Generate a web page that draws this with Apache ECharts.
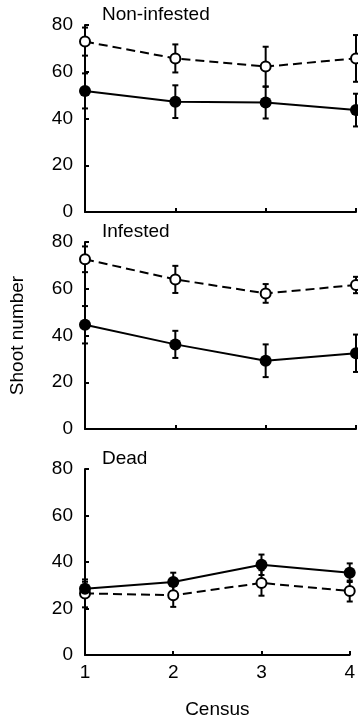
<!DOCTYPE html>
<html>
<head>
<meta charset="utf-8">
<script src="https://cdn.jsdelivr.net/npm/echarts@6/dist/echarts.min.js"></script>
<style>
  html, body { margin: 0; padding: 0; background: #fff; }
  #chart { width: 358px; height: 720px; }
</style>
</head>
<body>
<div id="chart"></div>
<script>
// census numbers on the x axis
const census = [1, 2, 3, 4]
const yTicks = [0, 20, 40, 60, 80]
const panelNames = ['Non-infested', 'Infested', 'Dead']

// open circles (dashed line) and filled circles (solid line), mean and error
const openMean = [
  [72.9, 65.7, 62.2, 65.7],
  [72.6, 64.0, 58.0, 61.6],
  [26.5, 25.7, 31.0, 27.5],
]
const openErr = [
  [6, 6, 8.5, 10],
  [5.5, 5.8, 4, 3.5],
  [6, 5, 5.5, 4.5],
]
const filledMean = [
  [51.8, 47.2, 46.8, 43.6],
  [44.6, 36.2, 29.2, 32.4],
  [28.5, 31.4, 38.8, 35.4],
]
const filledErr = [
  [7.5, 7, 6.8, 7],
  [8, 5.8, 7, 8],
  [3, 4, 4.4, 4],
]

const font = 'Liberation Sans, Arial, sans-serif'
const gridTops = [25, 242, 469]
const gridH = 187

function errorBars(means, errs, idx) {
  return {
    type: 'custom',
    xAxisIndex: idx,
    yAxisIndex: idx,
    z: 1,
    data: census.map((c, i) => [c, means[i] - errs[i], means[i] + errs[i]]),
    renderItem: (params, api) => {
      const lo = api.coord([api.value(0), api.value(1)])
      const hi = api.coord([api.value(0), api.value(2)])
      const w = 3
      const style = { stroke: '#000', lineWidth: 2 }
      return {
        type: 'group',
        children: [
          { type: 'line', shape: { x1: lo[0], y1: lo[1], x2: hi[0], y2: hi[1] }, style },
          { type: 'line', shape: { x1: lo[0] - w, y1: lo[1], x2: lo[0] + w, y2: lo[1] }, style },
          { type: 'line', shape: { x1: hi[0] - w, y1: hi[1], x2: hi[0] + w, y2: hi[1] }, style },
        ],
      }
    },
  }
}

const grids = []
const xAxes = []
const yAxes = []
const series = []
const titles = []

panelNames.forEach((name, p) => {
  const last = p === panelNames.length - 1
  grids.push({ left: 85, right: 2, top: gridTops[p], height: gridH })
  xAxes.push({
    gridIndex: p,
    type: 'value',
    min: 1,
    max: 4,
    interval: 1,
    splitLine: { show: false },
    axisLine: { lineStyle: { color: '#000', width: 2 } },
    axisTick: { inside: true, length: 4, lineStyle: { color: '#000', width: 2 } },
    axisLabel: { show: last, color: '#000', fontSize: 19, fontFamily: font, margin: 8 },
    name: last ? 'Census' : '',
    nameLocation: 'middle',
    nameGap: 45,
    nameTextStyle: { color: '#000', fontSize: 19, fontFamily: font },
  })
  yAxes.push({
    gridIndex: p,
    type: 'value',
    min: yTicks[0],
    max: yTicks[yTicks.length - 1],
    interval: 20,
    splitLine: { show: false },
    axisLine: { show: true, lineStyle: { color: '#000', width: 2 } },
    axisTick: { show: true, inside: true, length: 4, lineStyle: { color: '#000', width: 2 } },
    axisLabel: { color: '#000', fontSize: 19, fontFamily: font, margin: 12 },
    name: p === 1 ? 'Shoot number' : '',
    nameLocation: 'middle',
    nameRotate: 90,
    nameGap: 58,
    nameTextStyle: { color: '#000', fontSize: 19, fontFamily: font },
  })
  titles.push({
    text: name,
    left: 102,
    top: gridTops[p] - 20,
    padding: 0,
    textStyle: { color: '#000', fontSize: 19, fontWeight: 'normal', fontFamily: font },
  })

  series.push(errorBars(openMean[p], openErr[p], p))
  series.push(errorBars(filledMean[p], filledErr[p], p))
  series.push({
    type: 'line',
    xAxisIndex: p,
    yAxisIndex: p,
    z: 3,
    data: census.map((c, i) => [c, openMean[p][i]]),
    symbol: 'circle',
    symbolSize: 10,
    lineStyle: { color: '#000', width: 2, type: [9, 5] },
    itemStyle: { color: '#fff', borderColor: '#000', borderWidth: 2 },
  })
  series.push({
    type: 'line',
    xAxisIndex: p,
    yAxisIndex: p,
    z: 4,
    data: census.map((c, i) => [c, filledMean[p][i]]),
    symbol: 'circle',
    symbolSize: 12,
    lineStyle: { color: '#000', width: 2 },
    itemStyle: { color: '#000', borderColor: '#000', borderWidth: 0 },
  })
})

const chart = echarts.init(document.getElementById('chart'))
chart.setOption({
  animation: false,
  backgroundColor: '#fff',
  title: titles,
  grid: grids,
  xAxis: xAxes,
  yAxis: yAxes,
  series: series,
})
</script>
</body>
</html>
